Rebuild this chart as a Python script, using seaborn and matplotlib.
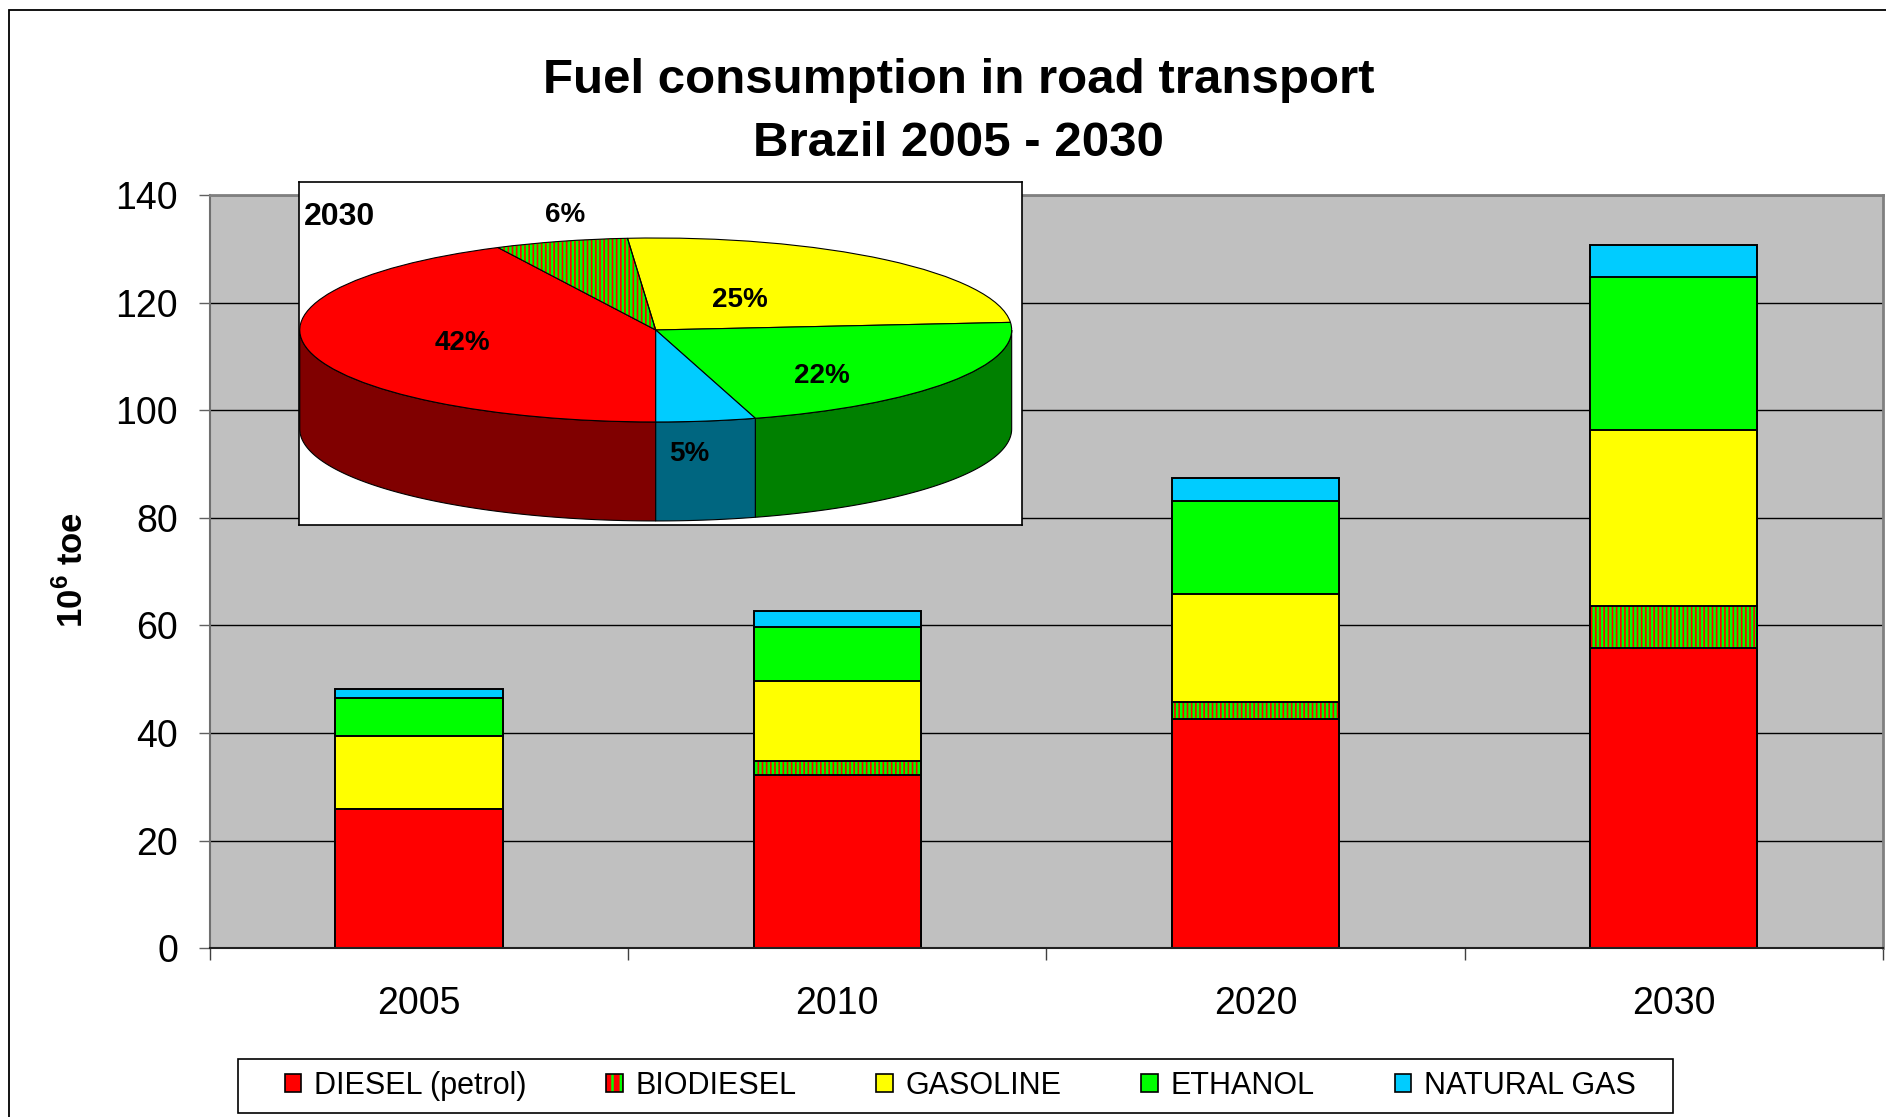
import numpy as np
import pandas as pd
import matplotlib
matplotlib.use("Agg")
import matplotlib.pyplot as plt
import seaborn as sns
from matplotlib.patches import Patch, Rectangle, Wedge
from matplotlib.legend_handler import HandlerTuple

# ---------------- data ----------------
years = ["2005", "2010", "2020", "2030"]
series_names = ["DIESEL (petrol)", "BIODIESEL", "GASOLINE", "ETHANOL", "NATURAL GAS"]
diesel = [25.8, 32.3, 42.6, 55.8]
biodiesel = [0.0, 2.6, 3.1, 7.9]
gasoline = [13.7, 14.7, 20.2, 32.6]
ethanol = [7.0, 10.1, 17.2, 28.5]
natural_gas = [1.7, 3.0, 4.3, 5.9]
y_ticks = [0, 20, 40, 60, 80, 100, 120, 140]
pie_year = "2030"
pie_labels = ["42%", "6%", "25%", "22%", "5%"]

# ---------------- style ----------------
sns.set_style("white")
plt.rcParams["font.family"] = ["Liberation Sans", "DejaVu Sans"]
plt.rcParams["text.color"] = "black"
plt.rcParams["axes.labelcolor"] = "black"
plt.rcParams["xtick.color"] = "black"
plt.rcParams["ytick.color"] = "black"
plt.rcParams["mathtext.fontset"] = "custom"
plt.rcParams["mathtext.rm"] = "Liberation Sans"
plt.rcParams["mathtext.bf"] = "Liberation Sans:bold"
plt.rcParams["hatch.linewidth"] = 1.8

RED, GREEN, YELLOW, LIME, CYAN = "#FF0000", "#00FF00", "#FFFF00", "#00FF00", "#00CCFF"

W, H = 1886, 1117
fig = plt.figure(figsize=(W / 100, H / 100), dpi=100, facecolor="white")

# figure border (left & top visible)
fig.patches.append(Rectangle((9 / W, -0.1), 1.2, 1.1 - 10 / H,
                             transform=fig.transFigure, fill=False,
                             edgecolor="black", lw=1.3, zorder=0))

ax = fig.add_axes([210 / W, 1 - 948.3 / H, 1672.7 / W, 753.3 / H])
ax.set_facecolor("#C0C0C0")

df = pd.DataFrame({"year": years, "diesel": diesel, "bio": biodiesel,
                   "gas": gasoline, "eth": ethanol, "ng": natural_gas})
df["c_bio"] = df["diesel"] + df["bio"]
df["c_gas"] = df["c_bio"] + df["gas"]
df["c_eth"] = df["c_gas"] + df["eth"]
df["c_ng"] = df["c_eth"] + df["ng"]

common = dict(x="year", order=years, width=0.4, saturation=1, errorbar=None, ax=ax)
edge = dict(edgecolor="black", linewidth=1.4)
sns.barplot(data=df, y="c_ng", color=CYAN, **common, **edge)
sns.barplot(data=df, y="c_eth", color=LIME, **common, **edge)
sns.barplot(data=df, y="c_gas", color=YELLOW, **common, **edge)
sns.barplot(data=df, y="c_bio", color=RED, hatch="||||", edgecolor=GREEN, linewidth=0, **common)
sns.barplot(data=df, y="c_bio", fill=False, color="black", linewidth=1.4, **common)
sns.barplot(data=df, y="diesel", color=RED, **common, **edge)

ax.set_xlim(-0.5, 3.5)
ax.set_ylim(0, 140)
ax.set_yticks(y_ticks)
ax.set_xlabel("")
ax.set_ylabel("")
ax.yaxis.grid(True, color="black", lw=1.0)
ax.xaxis.grid(False)
ax.set_axisbelow(True)
ax.set_xticks(np.arange(-0.5, len(years), 1.0), minor=True)
ax.tick_params(axis="y", left=True, direction="out", length=8, width=1,
               color="#606060", pad=15, labelsize=27, labelcolor="black")
ax.tick_params(axis="x", which="major", bottom=True, length=0, pad=27.5,
               labelsize=27, labelcolor="black")
ax.tick_params(axis="x", which="minor", bottom=True, direction="out",
               length=8.5, width=1, color="#404040")
for s in ["top", "right"]:
    ax.spines[s].set_color("#808080")
    ax.spines[s].set_linewidth(2)
ax.spines["left"].set_color("#707070")
ax.spines["left"].set_linewidth(1.5)
ax.spines["bottom"].set_color("#202020")
ax.spines["bottom"].set_linewidth(1.5)

# titles
fig.text(958.5 / W, 1 - 93 / H, "Fuel consumption in road transport",
         ha="center", va="baseline", fontsize=35.5, fontweight="bold")
fig.text(958.5 / W, 1 - 156 / H, "Brazil 2005 - 2030",
         ha="center", va="baseline", fontsize=35.5, fontweight="bold")
fig.text(72 / W, 1 - 570 / H, r"10$^{\mathbf{6}}$ toe", rotation=90,
         ha="center", va="center", fontsize=25, fontweight="bold")

# legend (frame drawn separately)
fig.patches.append(Rectangle((238.3 / W, 1 - 1112.7 / H), (1672.7 - 238.3) / W,
                             (1112.7 - 1059.3) / H, transform=fig.transFigure,
                             facecolor="white", edgecolor="black", lw=1.2, zorder=1))
handles = [
    Patch(facecolor=RED, edgecolor="black", lw=1.2),
    (Patch(facecolor=RED, edgecolor=GREEN, hatch="||", lw=0),
     Patch(fill=False, edgecolor="black", lw=1.2)),
    Patch(facecolor=YELLOW, edgecolor="black", lw=1.2),
    Patch(facecolor=LIME, edgecolor="black", lw=1.2),
    Patch(facecolor=CYAN, edgecolor="black", lw=1.2),
]
leg = fig.legend(handles, series_names, loc="center",
                 bbox_to_anchor=(960 / W, 1 - 1086 / H), ncol=5,
                 frameon=False, fontsize=22, handlelength=0.55, handleheight=0.55,
                 handletextpad=0.4, columnspacing=2.62, borderpad=0.45,
                 handler_map={tuple: HandlerTuple(ndivide=1)})
leg.set_zorder(3)

# ---------------- inset 3D pie ----------------
pax = fig.add_axes([299.4 / W, 1 - 525 / H, 722.6 / W, 343.3 / H])
pie_idx = years.index(pie_year)
pie_vals = [diesel[pie_idx], biodiesel[pie_idx], gasoline[pie_idx],
            ethanol[pie_idx], natural_gas[pie_idx]]
top_colors = [RED, RED, YELLOW, LIME, CYAN]
side_colors = ["#800000", "#800000", "#808000", "#008000", "#006680"]
wedges, _ = pax.pie(pie_vals, colors=top_colors, startangle=270,
                    counterclock=False, radius=1, center=(0, 0),
                    wedgeprops=dict(edgecolor="black", linewidth=0.8, zorder=2))
# biodiesel: red with green stripes
bw = wedges[1]
bw.set_hatch("||||")
bw.set_edgecolor(GREEN)
bw.set_linewidth(0)
pax.add_patch(Wedge((0, 0), 1, bw.theta1, bw.theta2, fill=False,
                    edgecolor="black", lw=0.8, zorder=3))

depth = 1.076
for w, sc in zip(wedges, side_colors):
    t1, t2 = w.theta1, w.theta2
    for lo, hi in ((-180, 0), (180, 360)):
        a, b = max(t1, lo), min(t2, hi)
        if b > a:
            t = np.radians(np.linspace(a, b, 120))
            x, y = np.cos(t), np.sin(t)
            pax.fill(np.r_[x, x[::-1]], np.r_[y, (y - depth)[::-1]],
                     facecolor=sc, edgecolor="black", lw=0.8, zorder=1)

label_r = [0.554, 1.313, 0.418, 0.671, 0.66]
label_da = [-2.0, -4.25, 5.8, -11.55, 0.0]
label_dy = [-0.03, -0.04, -0.02, -0.02, -0.70]
for w, lab, r, da, dy in zip(wedges, pie_labels, label_r, label_da, label_dy):
    m = np.radians((w.theta1 + w.theta2) / 2 + da)
    pax.text(r * np.cos(m), r * np.sin(m) + dy, lab, ha="center", va="center",
             fontsize=20, fontweight="bold", color="black", zorder=5)

pax.set_aspect("auto")
pax.set_xlim(-1.001, 1.029)
pax.set_ylim(-2.12, 1.612)
pax.set_frame_on(True)
pax.set_facecolor("white")
for s in pax.spines.values():
    s.set_visible(True)
    s.set_color("black")
    s.set_linewidth(1.2)
pax.set_xticks([])
pax.set_yticks([])
pax.text(0.056, 0.898, pie_year, transform=pax.transAxes, ha="center",
         va="center", fontsize=23, fontweight="bold", color="black")

fig.savefig("out.png", dpi=100, facecolor="white")
